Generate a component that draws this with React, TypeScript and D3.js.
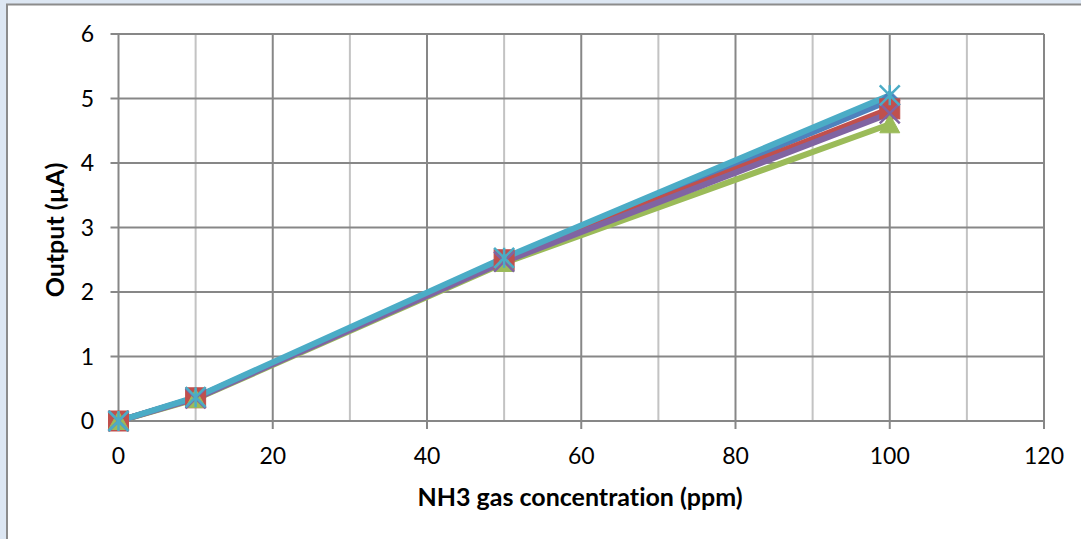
import React from "react";
import * as d3 from "d3";

const xValues = [0, 10, 50, 100];
const seriesNames = ["S1", "S2", "S3", "S4", "S5"];
const seriesColors = ["#4F81BD", "#C0504D", "#9BBB59", "#8064A2", "#4BACC6"];
const seriesMarkers = ["diamond", "square", "triangle", "x", "star"];
const seriesValues = [
  [0, 0.36, 2.5, 4.97],
  [0, 0.36, 2.5, 4.84],
  [0, 0.34, 2.45, 4.6],
  [0, 0.35, 2.47, 4.77],
  [0, 0.37, 2.53, 5.05],
];
const xTicks = [0, 20, 40, 60, 80, 100, 120];
const xMinorTicks = [10, 30, 50, 70, 90, 110];
const yTicks = [0, 1, 2, 3, 4, 5, 6];
const xTitle = "NH3 gas concentration (ppm)";
const yTitle = "Output (µA)";

const W = 1081;
const H = 539;
const plot = { left: 118.5, right: 1044, top: 34, bottom: 421 };
const FONT = "Lato, 'Open Sans', sans-serif";
const noLig = { fontVariantLigatures: "none" as const };

function Marker({ type, x, y, color }: { type: string; x: number; y: number; color: string }) {
  const s = 10;
  if (type === "diamond") {
    return <path d={`M${x},${y - s}L${x + s},${y}L${x},${y + s}L${x - s},${y}Z`} fill={color} stroke={color} strokeWidth={1} />;
  }
  if (type === "square") {
    return <rect x={x - s} y={y - s} width={2 * s} height={2 * s} fill={color} stroke={color} strokeWidth={1} />;
  }
  if (type === "triangle") {
    return <path d={`M${x},${y - s}L${x + s},${y + s * 0.85}L${x - s},${y + s * 0.85}Z`} fill={color} stroke={color} strokeWidth={1} />;
  }
  if (type === "x") {
    return (
      <path d={`M${x - s},${y - s}L${x + s},${y + s}M${x + s},${y - s}L${x - s},${y + s}`} stroke={color} strokeWidth={2.5} fill="none" />
    );
  }
  return (
    <path
      d={`M${x - s},${y - s}L${x + s},${y + s}M${x + s},${y - s}L${x - s},${y + s}M${x},${y - s}L${x},${y + s}`}
      stroke={color}
      strokeWidth={2.5}
      fill="none"
    />
  );
}

export default function App() {
  const xScale = d3.scaleLinear().domain([0, 120]).range([plot.left, plot.right]);
  const yScale = d3.scaleLinear().domain([0, 6]).range([plot.bottom, plot.top]);
  const line = d3
    .line<number>()
    .x((_, i) => xScale(xValues[i]))
    .y((d) => yScale(d));

  return (
    <svg width={W} height={H} style={{ position: "absolute", left: 0, top: 0, display: "block" }}>
      <rect x={0} y={0} width={W} height={H} fill="#dde7f3" />
      <rect x={7} y={4.5} width={W} height={H} fill="#ffffff" stroke="#8c8c8c" strokeWidth={2} />
      {/* minor gridlines */}
      {xMinorTicks.map((t) => (
        <line key={"m" + t} x1={xScale(t)} x2={xScale(t)} y1={plot.top} y2={plot.bottom} stroke="#c3c3c3" strokeWidth={2} />
      ))}
      {/* major gridlines */}
      {yTicks.map((t) => (
        <line key={"y" + t} x1={plot.left - 8} x2={plot.right} y1={yScale(t)} y2={yScale(t)} stroke="#878787" strokeWidth={2} />
      ))}
      {xTicks.map((t) => (
        <line key={"x" + t} x1={xScale(t)} x2={xScale(t)} y1={plot.top} y2={plot.bottom + 8} stroke="#878787" strokeWidth={2} />
      ))}
      {/* tick labels */}
      {yTicks.map((t) => (
        <text key={"yl" + t} x={94} y={yScale(t)} dy="0.35em" textAnchor="end" fontFamily={FONT} fontSize={23} fill="#000">
          {t}
        </text>
      ))}
      {xTicks.map((t) => (
        <text key={"xl" + t} x={xScale(t)} y={456} dy="0.35em" textAnchor="middle" fontFamily={FONT} fontSize={23} fill="#000">
          {t}
        </text>
      ))}
      <text x={580} y={497} dy="0.35em" textAnchor="middle" fontFamily={FONT} fontSize={25} fontWeight="bold" fill="#000" style={noLig}>
        {xTitle}
      </text>
      <text
        transform={`translate(55,230) rotate(-90)`}
        dy="0.35em"
        textAnchor="middle"
        fontFamily={FONT}
        fontSize={25}
        fontWeight="bold"
        fill="#000"
        style={noLig}
      >
        {yTitle}
      </text>
      {/* lines */}
      {seriesValues.map((vals, i) => (
        <path key={"l" + seriesNames[i]} d={line(vals) || ""} fill="none" stroke={seriesColors[i]} strokeWidth={6} strokeLinejoin="round" />
      ))}
      {/* markers */}
      {seriesValues.map((vals, i) => (
        <g key={"g" + seriesNames[i]}>
          {vals.map((v, j) => (
            <Marker key={j} type={seriesMarkers[i]} x={xScale(xValues[j])} y={yScale(v)} color={seriesColors[i]} />
          ))}
        </g>
      ))}
    </svg>
  );
}
